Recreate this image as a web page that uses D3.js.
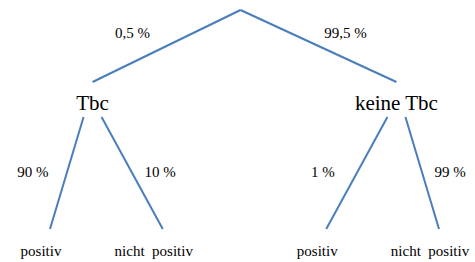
<!DOCTYPE html>
<html>
<head>
<meta charset="utf-8">
<script src="https://cdn.jsdelivr.net/npm/d3@7"></script>
<style>
  html, body { margin: 0; padding: 0; background: #fff; }
</style>
</head>
<body>
<div id="chart"></div>
<script>
// Stage 1: Tbc yes / no
const level1Labels = ["Tbc", "keine Tbc"];
const level1Probs = ["0,5 %", "99,5 %"];
// Stage 2: test result, per stage-1 branch
const level2Labels = [["positiv", "nicht  positiv"], ["positiv", "nicht  positiv"]];
const level2Probs = [["90 %", "10 %"], ["1 %", "99 %"]];

const width = 475;
const height = 262;
const serif = "'Times New Roman', Tinos, 'Liberation Serif', 'DejaVu Serif', serif";

// Build the hierarchy from the arrays
const root = d3.hierarchy({
    name: "",
    children: level1Labels.map((name, i) => ({
        name: name,
        prob: level1Probs[i],
        children: level2Labels[i].map((leaf, j) => ({ name: leaf, prob: level2Probs[i][j] }))
    }))
});

const tree = d3.tree()
    .nodeSize([1, 1])
    .separation((a, b) => a.parent === b.parent ? 1 : 1.45);
tree(root);

// spread the middle level a bit wider than the plain midpoint
root.children.forEach(c => { c.x = root.x + (c.x - root.x) * 1.1; });

// Fit leaves to the drawing width
const x = d3.scaleLinear()
    .domain(d3.extent(root.leaves(), d => d.x))
    .range([50, 439]);

// Vertical anchors per depth
const yTop = d3.scaleOrdinal().domain([0, 1, 2]).range([10, 82, 229]);    // where incoming line ends
const yBottom = d3.scaleOrdinal().domain([0, 1]).range([10, 117]);       // where outgoing line starts
const yText = d3.scaleOrdinal().domain([1, 2]).range([110, 256]);        // label baseline

const svg = d3.select("#chart").append("svg")
    .attr("width", width)
    .attr("height", height);

const links = root.links();
const sideOf = l => l.source.children.indexOf(l.target) === 0 ? -1 : 1;

function startPoint(l) {
    const p = l.source;
    const dx = p.depth === 0 ? -4 : sideOf(l) * 9;
    return [x(p.x) + dx, yBottom(p.depth)];
}
function endPoint(l) {
    return [x(l.target.x), yTop(l.target.depth)];
}

// Branches
svg.selectAll(".link")
    .data(links)
    .enter().append("line")
    .attr("class", "link")
    .attr("x1", d => startPoint(d)[0])
    .attr("y1", d => startPoint(d)[1])
    .attr("x2", d => endPoint(d)[0])
    .attr("y2", d => endPoint(d)[1])
    .style("stroke", "#4a7ebb")
    .style("stroke-width", 2);

// Probability labels beside each branch
svg.selectAll(".prob")
    .data(links)
    .enter().append("text")
    .attr("class", "prob")
    .attr("x", d => {
        const s = startPoint(d), e = endPoint(d);
        const off = d.source.depth === 0 ? (sideOf(d) < 0 ? -34 : 27) : (sideOf(d) < 0 ? -34 : 28);
        return (s[0] + e[0]) / 2 + off;
    })
    .attr("y", d => {
        const s = startPoint(d), e = endPoint(d);
        return (s[1] + e[1]) / 2 + (d.source.depth === 0 ? -8 : 4);
    })
    .attr("text-anchor", "middle")
    .style("font-family", serif)
    .style("font-size", "15px")
    .text(d => d.target.data.prob);

// Node labels
svg.selectAll(".node")
    .data(root.descendants().slice(1))
    .enter().append("text")
    .attr("class", "node")
    .attr("x", d => x(d.x) + (d.depth === 2 ? -9 : 0))
    .attr("y", d => yText(d.depth))
    .attr("text-anchor", "middle")
    .attr("xml:space", "preserve")
    .style("white-space", "pre")
    .style("font-family", serif)
    .style("font-size", d => d.depth === 1 ? "21px" : "15px")
    .text(d => d.data.name);
</script>
</body>
</html>
